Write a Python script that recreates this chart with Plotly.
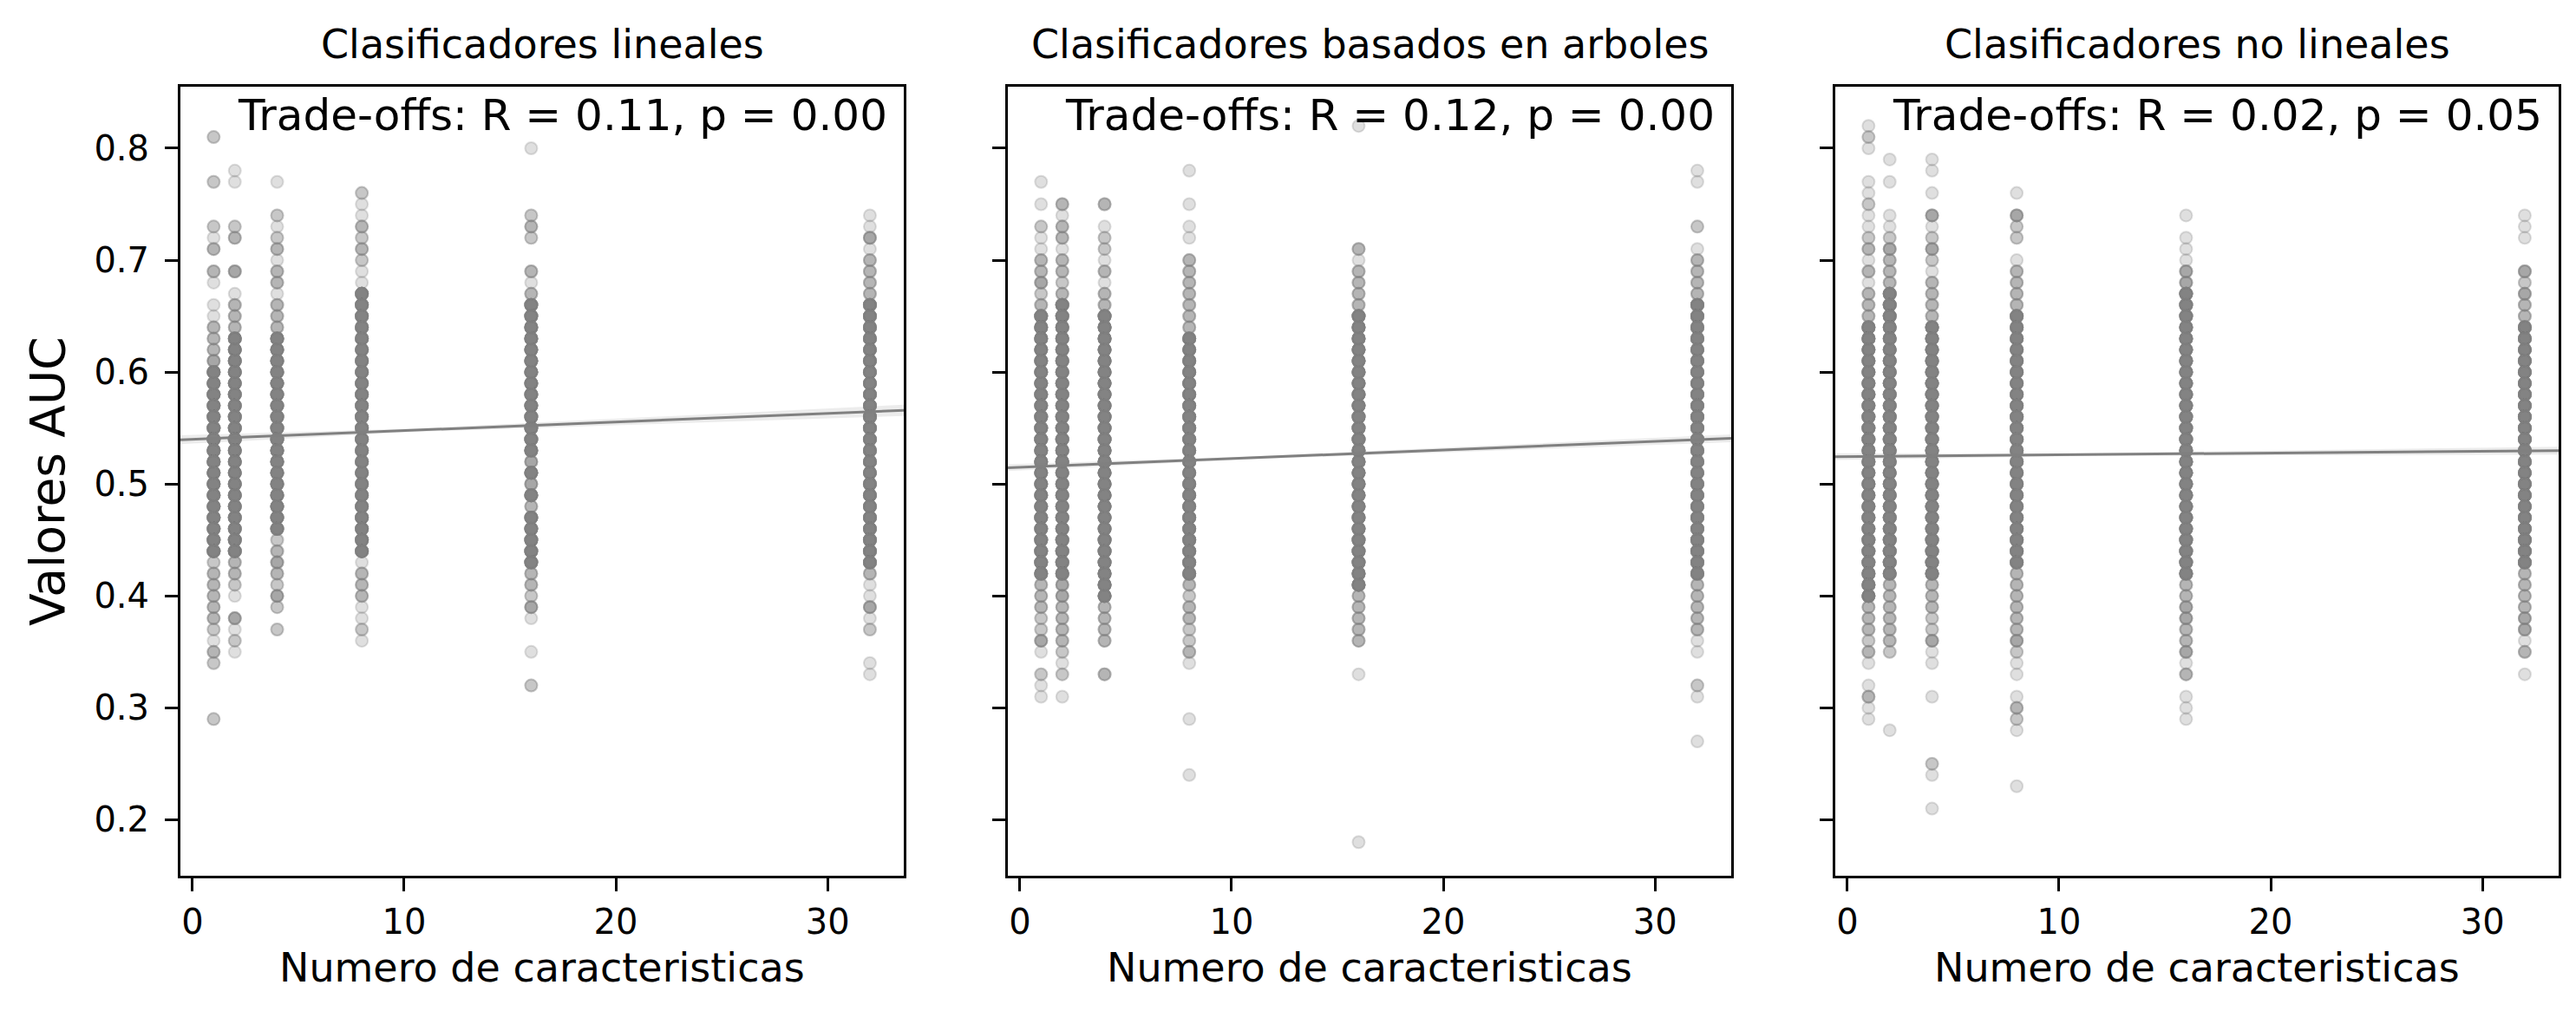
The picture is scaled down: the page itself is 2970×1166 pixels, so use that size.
import plotly.graph_objects as go

FEATURES = [1, 2, 4, 8, 16, 32]
TITLES = ["Clasificadores lineales", "Clasificadores basados en arboles", "Clasificadores no lineales"]
STATS = ["Trade-offs: R = 0.11, p = 0.00",
         "Trade-offs: R = 0.12, p = 0.00",
         "Trade-offs: R = 0.02, p = 0.05"]

# AUC values in hundredths. "sparse" = (auc, how many runs landed there),
# "dense" = the solid part of each column (DENSE_N runs each)
DENSE_N = 12

LIN_SPARSE = [
    [(81, 2), (77, 2), (73, 2), (72, 1), (71, 3), (69, 3), (68, 1), (66, 1), (65, 1), (64, 3), (63, 3), (62, 3),
     (61, 4), (43, 2), (42, 3), (41, 3), (40, 3), (39, 3), (38, 3), (37, 2), (36, 1), (35, 3), (34, 2), (29, 2)],
    [(78, 1), (77, 1), (73, 2), (72, 3), (69, 4), (67, 1), (66, 3), (65, 3), (64, 3), (43, 3), (42, 3), (41, 2),
     (40, 1), (38, 4), (37, 1), (36, 2), (35, 1)],
    [(77, 1), (74, 2), (73, 1), (72, 2), (71, 3), (70, 1), (69, 3), (68, 3), (67, 1), (66, 3), (65, 3), (64, 3),
     (45, 2), (44, 3), (43, 4), (42, 3), (41, 2), (40, 4), (39, 2), (37, 2)],
    [(76, 2), (75, 1), (74, 1), (73, 3), (72, 2), (71, 3), (70, 2), (69, 1), (68, 1), (43, 1), (42, 3), (41, 3),
     (40, 3), (39, 1), (38, 1), (37, 2), (36, 1)],
    [(80, 1), (74, 2), (73, 3), (72, 2), (69, 3), (68, 1), (67, 3), (52, 4), (50, 4), (48, 3), (42, 3), (41, 3),
     (40, 2), (39, 4), (38, 1), (35, 1), (32, 2)],
    [(74, 1), (73, 1), (72, 4), (71, 1), (70, 3), (69, 3), (68, 3), (67, 3), (42, 3), (41, 1), (40, 1), (39, 4),
     (38, 1), (37, 2), (34, 1), (33, 1)],
]
LIN_DENSE = [
    [60, 59, 58, 57, 56, 55, 54, 53, 52, 51, 50, 49, 48, 47, 46, 45, 44],
    [63, 62, 61, 60, 59, 58, 57, 56, 55, 54, 53, 52, 51, 50, 49, 48, 47, 46, 45, 44],
    [63, 62, 61, 60, 59, 58, 57, 56, 55, 54, 53, 52, 51, 50, 49, 48, 47, 46],
    [67, 66, 65, 64, 63, 62, 61, 60, 59, 58, 57, 56, 55, 54, 53, 52, 51, 50, 49, 48, 47, 46, 45, 44],
    [66, 65, 64, 63, 62, 61, 60, 59, 58, 57, 56, 55, 54, 53, 51, 49, 47, 46, 45, 44, 43],
    [66, 65, 64, 63, 62, 61, 60, 59, 58, 57, 56, 55, 54, 53, 52, 51, 50, 49, 48, 47, 46, 45, 44, 43],
]

ARB_SPARSE = [
    [(77, 1), (75, 1), (73, 2), (72, 1), (71, 1), (70, 3), (69, 3), (68, 4), (67, 2), (66, 3), (41, 3), (40, 3),
     (39, 3), (38, 2), (37, 2), (36, 4), (35, 1), (33, 2), (32, 1), (31, 1)],
    [(75, 3), (74, 1), (73, 3), (72, 3), (71, 1), (70, 3), (69, 3), (68, 2), (67, 3), (41, 4), (40, 4), (39, 3),
     (38, 3), (37, 3), (36, 3), (35, 2), (34, 1), (33, 2), (31, 1)],
    [(75, 3), (73, 1), (72, 2), (71, 2), (70, 1), (69, 3), (68, 1), (67, 3), (66, 3), (39, 3), (38, 3), (37, 3),
     (36, 3), (33, 3)],
    [(78, 1), (75, 1), (73, 1), (72, 1), (70, 3), (69, 3), (68, 3), (67, 3), (66, 3), (65, 3), (64, 3), (41, 3),
     (40, 2), (39, 3), (38, 3), (37, 2), (36, 2), (35, 3), (34, 1), (29, 1), (24, 1)],
    [(82, 1), (71, 3), (70, 1), (69, 3), (68, 3), (67, 3), (66, 3), (40, 3), (39, 3), (38, 3), (37, 3), (36, 3),
     (33, 1), (18, 1)],
    [(78, 1), (77, 1), (73, 2), (71, 1), (70, 3), (69, 3), (68, 3), (67, 3), (41, 3), (40, 3), (39, 3), (38, 3),
     (37, 3), (36, 1), (35, 1), (32, 2), (31, 1), (27, 1)],
]
ARB_DENSE = [
    [65, 64, 63, 62, 61, 60, 59, 58, 57, 56, 55, 54, 53, 52, 51, 50, 49, 48, 47, 46, 45, 44, 43, 42],
    [66, 65, 64, 63, 62, 61, 60, 59, 58, 57, 56, 55, 54, 53, 52, 51, 50, 49, 48, 47, 46, 45, 44, 43, 42],
    [65, 64, 63, 62, 61, 60, 59, 58, 57, 56, 55, 54, 53, 52, 51, 50, 49, 48, 47, 46, 45, 44, 43, 42, 41, 40],
    [63, 62, 61, 60, 59, 58, 57, 56, 55, 54, 53, 52, 51, 50, 49, 48, 47, 46, 45, 44, 43, 42],
    [65, 64, 63, 62, 61, 60, 59, 58, 57, 56, 55, 54, 53, 52, 51, 50, 49, 48, 47, 46, 45, 44, 43, 42, 41],
    [66, 65, 64, 63, 62, 61, 60, 59, 58, 57, 56, 55, 54, 53, 52, 51, 50, 49, 48, 47, 46, 45, 44, 43, 42],
]

NOLIN_SPARSE = [
    [(82, 1), (81, 2), (80, 1), (77, 1), (76, 1), (75, 2), (74, 1), (73, 1), (72, 2), (71, 3), (70, 1), (69, 3),
     (68, 1), (67, 3), (66, 3), (65, 3), (39, 3), (38, 3), (37, 3), (36, 2), (35, 3), (34, 1), (32, 1), (31, 3),
     (30, 1), (29, 1)],
    [(79, 1), (77, 1), (74, 1), (73, 1), (72, 2), (71, 4), (70, 3), (69, 3), (68, 3), (41, 3), (40, 3), (39, 3),
     (38, 3), (37, 3), (36, 3), (35, 2), (28, 1)],
    [(79, 1), (78, 1), (76, 1), (74, 4), (73, 1), (72, 2), (71, 4), (70, 2), (69, 1), (68, 3), (67, 3), (66, 3),
     (65, 3), (41, 3), (40, 3), (39, 3), (38, 2), (37, 2), (36, 4), (35, 1), (34, 1), (31, 1), (25, 2), (24, 1),
     (21, 1)],
    [(76, 1), (74, 4), (73, 2), (72, 2), (70, 1), (69, 3), (68, 3), (67, 3), (66, 3), (42, 3), (41, 3), (40, 3),
     (39, 3), (38, 3), (37, 3), (36, 4), (35, 2), (34, 1), (33, 1), (31, 1), (30, 3), (29, 2), (28, 1), (23, 1)],
    [(74, 1), (72, 1), (71, 1), (70, 1), (69, 4), (68, 4), (41, 3), (40, 3), (39, 4), (38, 4), (37, 3), (36, 3),
     (35, 4), (34, 1), (33, 3), (31, 1), (30, 1), (29, 1)],
    [(74, 1), (73, 1), (72, 1), (69, 4), (68, 2), (67, 4), (66, 3), (65, 3), (42, 3), (41, 3), (40, 3), (39, 3),
     (38, 4), (37, 4), (36, 1), (35, 3), (33, 1)],
]
NOLIN_DENSE = [
    [64, 63, 62, 61, 60, 59, 58, 57, 56, 55, 54, 53, 52, 51, 50, 49, 48, 47, 46, 45, 44, 43, 42, 41, 40],
    [67, 66, 65, 64, 63, 62, 61, 60, 59, 58, 57, 56, 55, 54, 53, 52, 51, 50, 49, 48, 47, 46, 45, 44, 43, 42],
    [64, 63, 62, 61, 60, 59, 58, 57, 56, 55, 54, 53, 52, 51, 50, 49, 48, 47, 46, 45, 44, 43, 42],
    [65, 64, 63, 62, 61, 60, 59, 58, 57, 56, 55, 54, 53, 52, 51, 50, 49, 48, 47, 46, 45, 44, 43],
    [67, 66, 65, 64, 63, 62, 61, 60, 59, 58, 57, 56, 55, 54, 53, 52, 51, 50, 49, 48, 47, 46, 45, 44, 43, 42],
    [64, 63, 62, 61, 60, 59, 58, 57, 56, 55, 54, 53, 52, 51, 50, 49, 48, 47, 46, 45, 44, 43],
]

# regression line (seaborn regplot)
FIT_INTERCEPT = [0.540, 0.515, 0.5245]
FIT_SLOPE = [0.00077, 0.00077, 0.00016]
# CI half width at left edge / mean x / right edge
CI_HALF = [[0.004, 0.0015, 0.005], [0.003, 0.0012, 0.0035], [0.003, 0.0012, 0.0035]]
X_MEAN = 10.5

X_RANGE = [-0.57, 33.6]
Y_RANGE = [0.150, 0.855]

panels = [(LIN_SPARSE, LIN_DENSE), (ARB_SPARSE, ARB_DENSE), (NOLIN_SPARSE, NOLIN_DENSE)]

W, H = 2970, 1166
FONT = "DejaVu Sans"
GREY = "#808080"
PT = "rgba(128,128,128,0.25)"

# pixel layout of the three axes
left_px = [200, 1154, 2108]
ax_w = 834

fig = go.Figure()

for i, (sparse, dense) in enumerate(panels):
    xs, ys = [], []
    for f, col, den in zip(FEATURES, sparse, dense):
        for v, n in col:
            xs += [f] * n
            ys += [v / 100] * n
        for v in den:
            xs += [f] * DENSE_N
            ys += [v / 100] * DENSE_N
    xa = "x" if i == 0 else f"x{i + 1}"
    ya = "y" if i == 0 else f"y{i + 1}"
    fig.add_trace(go.Scatter(
        x=xs, y=ys, mode="markers", xaxis=xa, yaxis=ya, showlegend=False,
        marker=dict(size=14, color=PT, line=dict(color=PT, width=2)),
    ))

    bx = [X_RANGE[0], X_MEAN, X_RANGE[1]]
    fit = [FIT_INTERCEPT[i] + FIT_SLOPE[i] * x for x in bx]
    up = [f + h for f, h in zip(fit, CI_HALF[i])]
    lo = [f - h for f, h in zip(fit, CI_HALF[i])]
    fig.add_trace(go.Scatter(
        x=bx + bx[::-1], y=up + lo[::-1], fill="toself", mode="lines",
        line=dict(width=0), fillcolor="rgba(128,128,128,0.15)",
        xaxis=xa, yaxis=ya, showlegend=False, hoverinfo="skip",
    ))
    fig.add_trace(go.Scatter(
        x=[X_RANGE[0], X_RANGE[1]], y=[fit[0], fit[2]], mode="lines",
        line=dict(color=GREY, width=3), xaxis=xa, yaxis=ya, showlegend=False,
    ))

    dom = [left_px[i] / W, (left_px[i] + ax_w) / W]
    axis_common = dict(showline=True, mirror=True, linecolor="black", linewidth=3,
                       ticks="outside", ticklen=15, tickwidth=3, tickcolor="black",
                       showgrid=False, zeroline=False,
                       tickfont=dict(family=FONT, size=40, color="black"))
    fig.layout["xaxis" if i == 0 else f"xaxis{i + 1}"] = dict(
        domain=dom, range=X_RANGE, tickvals=[0, 10, 20, 30], anchor=ya,
        ticklabelstandoff=1, **axis_common)
    fig.layout["yaxis" if i == 0 else f"yaxis{i + 1}"] = dict(
        domain=[0, 1], range=Y_RANGE, tickvals=[0.2, 0.3, 0.4, 0.5, 0.6, 0.7, 0.8],
        ticktext=["0.2", "0.3", "0.4", "0.5", "0.6", "0.7", "0.8"],
        showticklabels=(i == 0), anchor=xa, ticklabelstandoff=10, **axis_common)

    xd = "x domain" if i == 0 else f"x{i + 1} domain"
    yd = "y domain" if i == 0 else f"y{i + 1} domain"
    fig.add_annotation(text=TITLES[i], xref=xd, yref=yd, x=0.5, y=1, xanchor="center",
                       yanchor="middle", yshift=49, showarrow=False,
                       font=dict(family=FONT, size=46, color="black"))
    fig.add_annotation(text=STATS[i], xref=xd, yref=yd, x=1, y=1, xanchor="right",
                       yanchor="middle", xshift=-17, yshift=-33, showarrow=False,
                       font=dict(family=FONT, size=50, color="black"))
    fig.add_annotation(text="Numero de caracteristicas", xref=xd, yref=yd, x=0.5, y=0,
                       xanchor="center", yanchor="middle", yshift=-106, showarrow=False,
                       font=dict(family=FONT, size=46, color="black"))

fig.add_annotation(text="Valores AUC", xref="paper", yref="paper", x=47 / W, y=0.5,
                   xanchor="center", yanchor="middle", textangle=-90, showarrow=False,
                   font=dict(family=FONT, size=55, color="black"))

fig.update_layout(
    width=W, height=H,
    margin=dict(l=0, r=0, t=92, b=164),
    paper_bgcolor="white", plot_bgcolor="white",
    showlegend=False,
)

fig.write_html("out.html")
